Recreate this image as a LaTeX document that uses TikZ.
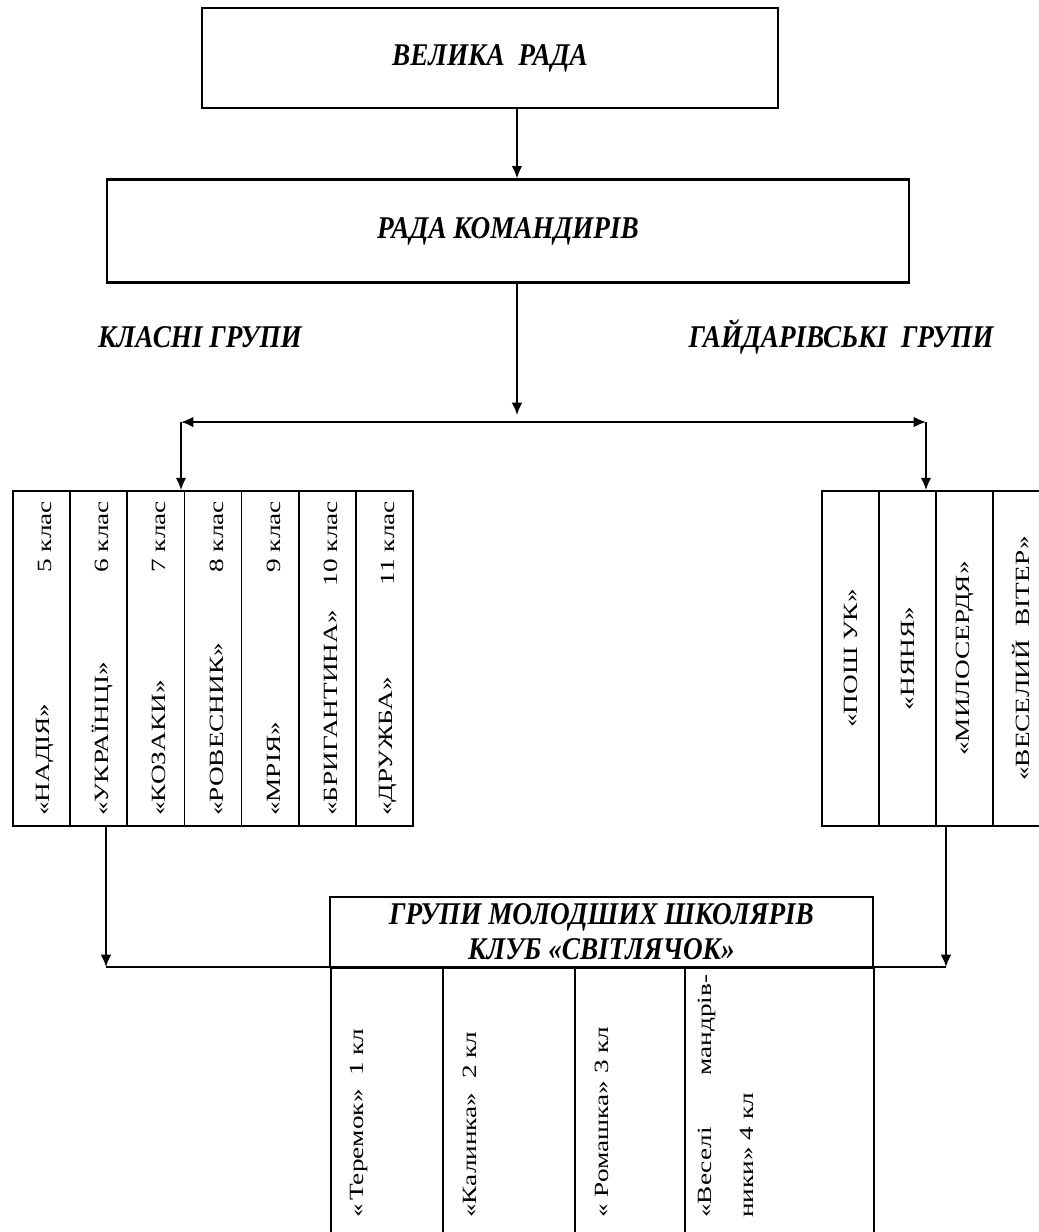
\documentclass[tikz,border=0pt]{standalone}
\usepackage{fontspec}
\setmainfont{Liberation Serif}
\newfontfamily\cellfont{Liberation Serif}[FakeStretch=1.35]
\newfontfamily\headfont{Liberation Serif}[FakeStretch=0.86]
\usetikzlibrary{positioning,arrows.meta}

\tikzset{
  box/.style={draw, line width=1.2pt, inner sep=0pt},
  cell/.style={draw, line width=1pt, inner sep=0pt},
  head/.style={font=\headfont\bfseries\itshape\fontsize{18}{20}\selectfont},
  vtext/.style={rotate=90, inner sep=0pt, font=\cellfont\fontsize{11.5}{13}\selectfont},
  conn/.style={line width=1.1pt},
  tip/.tip={Latex[length=7pt,width=6pt]},
}

\begin{document}
\begin{tikzpicture}[x=0.02cm, y=-0.02cm]
\useasboundingbox (0,0) rectangle (1039,1232);

% upper boxes
\node[box, head, minimum width=11.52cm, minimum height=2cm] (vr) at (490,58) {ВЕЛИКА\ \ РАДА};
\node[box, head, minimum width=16.06cm, minimum height=2.06cm] (rk) at (508,231) {РАДА КОМАНДИРІВ};

\node[head, inner sep=0pt] (kg) at (200,337) {КЛАСНІ ГРУПИ};
\node[head, inner sep=0pt] (gg) at (841,337) {ГАЙДАРІВСЬКІ\ \ ГРУПИ};

% class groups
\foreach \nm/\cl [count=\i] in {НАДІЯ/5, УКРАЇНЦІ/6, КОЗАКИ/7, РОВЕСНИК/8, МРІЯ/9, БРИГАНТИНА/10, ДРУЖБА/11}{
  \node[cell, minimum width=1.143cm, minimum height=6.7cm] (k\i) at ({13+57.14*(\i-0.5)},658.5) {};
  \node[vtext, anchor=west] at ([xshift=2pt,yshift=6pt]k\i.south) {«\nm»};
  \node[vtext, anchor=east] at ([xshift=2pt,yshift=-6pt]k\i.north) {\cl~клас};
}

% gaidar groups
\foreach \nm [count=\i] in {ПОШ УК, НЯНЯ, МИЛОСЕРДЯ, ВЕСЕЛИЙ\ \ ВІТЕР}{
  \node[cell, minimum width=1.14cm, minimum height=6.7cm] (h\i) at ({822+57*(\i-0.5)},658.5) {};
  \node[vtext] at (h\i.center) {«\nm»};
}

% junior pupils
\node[box, head, align=center, minimum width=10.86cm, minimum height=1.4cm] (sv) at (601.5,932)
  {ГРУПИ МОЛОДШИХ ШКОЛЯРІВ\\КЛУБ «СВІТЛЯЧОК»};
\node[cell, anchor=north west, minimum width=2.24cm, minimum height=5.6cm] (t1) at (330,967) {};
\node[cell, anchor=north west, minimum width=2.64cm, minimum height=5.6cm] (t2) at (442,967) {};
\node[cell, anchor=north west, minimum width=2.2cm, minimum height=5.6cm] (t3) at (574,967) {};
\node[cell, anchor=north west, minimum width=3.78cm, minimum height=5.6cm] (t4) at (684,967) {};

\node[vtext, anchor=west] at (359,1218) {«\,Теремок»\ \ 1 кл};
\node[vtext, anchor=west] at (470,1218) {«Калинка»\ \ 2 кл};
\node[vtext, anchor=west] at (602,1218) {« Ромашка» 3 кл};
\node[vtext, anchor=west] at (707,1218) {\makebox[4.86cm][s]{«Веселі мандрів-}};
\node[vtext, anchor=west] at (747,1218) {ники» 4 кл};

% connectors
\coordinate (sp) at (517,415);
\coordinate (hl) at (181,422);
\coordinate (hr) at (926,422);
\coordinate (bl) at (106,967);
\coordinate (br) at (946,967);

\draw[conn,-tip] (vr.south -| sp) -- (rk.north -| sp);
\draw[conn,-tip] (rk.south -| sp) -- (sp);
\draw[conn,tip-tip] (hl) -- (hr);
\draw[conn,-tip] (hl) -- (hl |- k3.north);
\draw[conn,-tip] (hr) -- (hr |- h2.north);
\draw[conn,-tip] (k2.south -| bl) -- (bl);
\draw[conn,-tip] (h3.south -| br) -- (br);
\draw[conn] (bl) -- (br);
\end{tikzpicture}
\end{document}
